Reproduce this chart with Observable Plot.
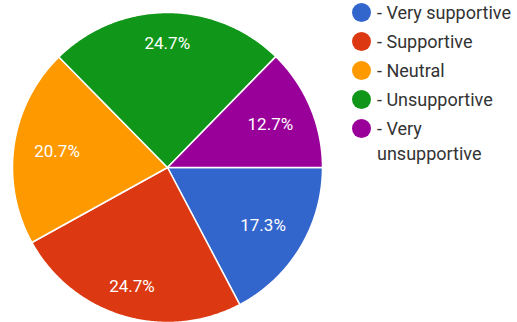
<!DOCTYPE html>
<html>
<head>
<meta charset="utf-8">
<script src="https://cdn.jsdelivr.net/npm/d3@7"></script>
<script src="https://cdn.jsdelivr.net/npm/@observablehq/plot@0.6"></script>
<style>
  body { margin: 0; background: #fff; font-family: Roboto, "Noto Sans", sans-serif; }
  #wrap { position: relative; width: 517px; height: 322px; overflow: hidden; }
  #legend { position: absolute; left: 352px; top: 0; width: 165px; }
  .item { position: absolute; left: 0; display: flex; align-items: flex-start; font-size: 18px; color: #333; line-height: 25px; white-space: nowrap; }
  .dot { width: 19px; height: 19px; border-radius: 50%; margin-top: 2.5px; margin-right: 6px; flex: none; }
</style>
</head>
<body>
<div id="wrap"><div id="chart"></div><div id="legend"></div></div>
<script>
const categories = ["Very supportive", "Supportive", "Neutral", "Unsupportive", "Very unsupportive"];
const values = [17.3, 24.7, 20.7, 24.7, 12.7];
const labels = ["17.3%", "24.7%", "20.7%", "24.7%", "12.7%"];
const colors = ["#3366cc", "#dc3912", "#ff9900", "#109618", "#990099"];

const arcs = d3.pie().sort(null).startAngle(Math.PI / 2).endAngle(Math.PI / 2 + 2 * Math.PI)(values);

const slicePoints = [];
arcs.forEach((a, i) => {
  const n = Math.max(2, Math.ceil((a.endAngle - a.startAngle) / 0.01));
  slicePoints.push({cat: categories[i], x: 0, y: 0});
  for (let k = 0; k <= n; k++) {
    const t = a.startAngle + (a.endAngle - a.startAngle) * k / n;
    slicePoints.push({cat: categories[i], x: Math.sin(t), y: Math.cos(t)});
  }
  slicePoints.push({cat: categories[i], x: 0, y: 0});
});

// labels of wider slices sit a bit further out, as in the reference
const labelData = arcs.map((a, i) => {
  const m = (a.startAngle + a.endAngle) / 2;
  const r = (a.endAngle - a.startAngle) > 1.4 ? 0.8 : 0.72;
  return {label: labels[i], x: r * Math.sin(m), y: r * Math.cos(m)};
});

const chart = Plot.plot({
  width: 517,
  height: 322,
  marginLeft: 12,
  marginRight: 195,
  marginTop: 12,
  marginBottom: 0,
  x: {domain: [-1, 1], axis: null},
  y: {domain: [-1, 1], axis: null},
  color: {domain: categories, range: colors},
  style: {fontFamily: "Roboto, sans-serif", background: "white"},
  marks: [
    Plot.line(slicePoints, {x: "x", y: "y", z: "cat", fill: "cat", stroke: "white", strokeWidth: 1.5, strokeLinejoin: "round"}),
    Plot.text(labelData, {x: "x", y: "y", text: "label", fill: "white", fontSize: 17})
  ]
});
document.getElementById("chart").appendChild(chart);

const legend = document.getElementById("legend");
const tops = [0, 29, 58, 87, 116];
const legendText = ["- Very supportive", "- Supportive", "- Neutral", "- Unsupportive", "- Very<br>unsupportive"];
categories.forEach((c, i) => {
  const it = document.createElement("div");
  it.className = "item";
  it.style.top = tops[i] + "px";
  it.innerHTML = `<span class="dot" style="background:${colors[i]}"></span><span>${legendText[i]}</span>`;
  legend.appendChild(it);
});
</script>
</body>
</html>
